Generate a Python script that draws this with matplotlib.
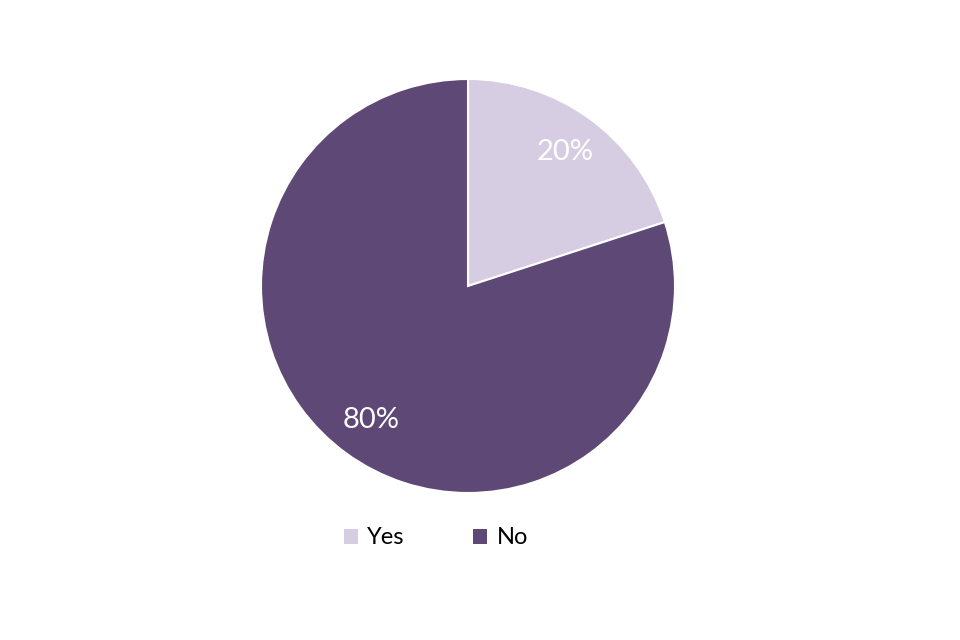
import matplotlib.pyplot as plt
from matplotlib.patches import Patch

labels = ["Yes", "No"]
values = [20, 80]
colors = ["#D7CDE3", "#5E4876"]

plt.rcParams['font.family'] = ['Lato', 'DejaVu Sans']

fig = plt.figure(figsize=(9.6, 6.4), dpi=100)
ax = fig.add_axes([(468 - 207) / 960, (640 - 493) / 640, 414 / 960, 414 / 640])
wedges, texts, autotexts = ax.pie(values, colors=colors, startangle=90, counterclock=False,
                                  autopct="%d%%", pctdistance=0.8, radius=1,
                                  wedgeprops=dict(edgecolor="white", linewidth=1.5),
                                  textprops=dict(color="white", fontsize=21))
ax.set_xlim(-1, 1)
ax.set_ylim(-1, 1)
ax.set_aspect("equal")

handles = [Patch(facecolor=c, edgecolor="none") for c in colors]
fig.legend(handles, labels, loc="center", bbox_to_anchor=(436 / 960, 1 - 538 / 640),
           ncol=2, frameon=False, fontsize=17, handlelength=0.6, handleheight=0.6,
           columnspacing=2.9, handletextpad=0.4)

fig.savefig("out.png", dpi=100)
